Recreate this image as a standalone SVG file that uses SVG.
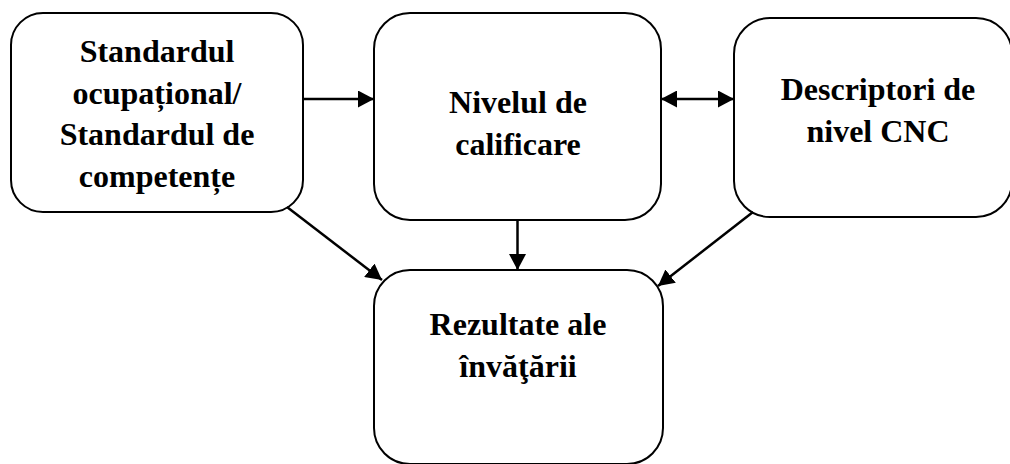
<svg xmlns="http://www.w3.org/2000/svg" width="1010" height="464" viewBox="0 0 1010 464">
<defs>
<style>
.box{fill:#fff;stroke:#000;stroke-width:2}
.lbl{font-family:"Liberation Serif","Times New Roman",serif;font-weight:bold;font-size:32px;fill:#000;text-anchor:middle}
.conn{stroke:#000;stroke-width:2.5;fill:none}
</style>
<marker id="ah" markerUnits="userSpaceOnUse" markerWidth="17" markerHeight="17" viewBox="0 0 17 17" refX="16" refY="8.5" orient="auto-start-reverse">
<path d="M0,0 L16,8.5 L0,17 Z" fill="#000"/>
</marker>
</defs>
<rect width="1010" height="464" fill="#fff"/>
<g id="n1">
<rect class="box" x="11" y="13" width="292" height="199" rx="32" ry="32"/>
<text class="lbl"><tspan x="157" y="62">Standardul</tspan><tspan x="157" y="104">ocupațional/</tspan><tspan x="157" y="145">Standardul de</tspan><tspan x="157" y="187">competențe</tspan></text>
</g>
<g id="n2">
<rect class="box" x="374" y="13" width="287" height="207" rx="36" ry="36"/>
<text class="lbl"><tspan x="518" y="113">Nivelul de</tspan><tspan x="518" y="155">calificare</tspan></text>
</g>
<g id="n3">
<rect class="box" x="734" y="18" width="278" height="199" rx="36" ry="36"/>
<text class="lbl"><tspan x="878" y="100">Descriptori de</tspan><tspan x="878" y="142">nivel CNC</tspan></text>
</g>
<g id="n4">
<rect class="box" x="374" y="270" width="289" height="194" rx="36" ry="36"/>
<text class="lbl"><tspan x="518" y="335">Rezultate ale</tspan><tspan x="518" y="377">învăţării</tspan></text>
</g>
<g id="connectors">
<line class="conn" x1="303" y1="99" x2="374" y2="99" marker-end="url(#ah)"/>
<line class="conn" x1="661" y1="99" x2="734" y2="99" marker-start="url(#ah)" marker-end="url(#ah)"/>
<line class="conn" x1="517.5" y1="220" x2="517.5" y2="270" marker-end="url(#ah)"/>
<line class="conn" x1="287" y1="207" x2="382" y2="280" marker-end="url(#ah)"/>
<line class="conn" x1="753" y1="212" x2="658" y2="286" marker-end="url(#ah)"/>
</g>
</svg>
